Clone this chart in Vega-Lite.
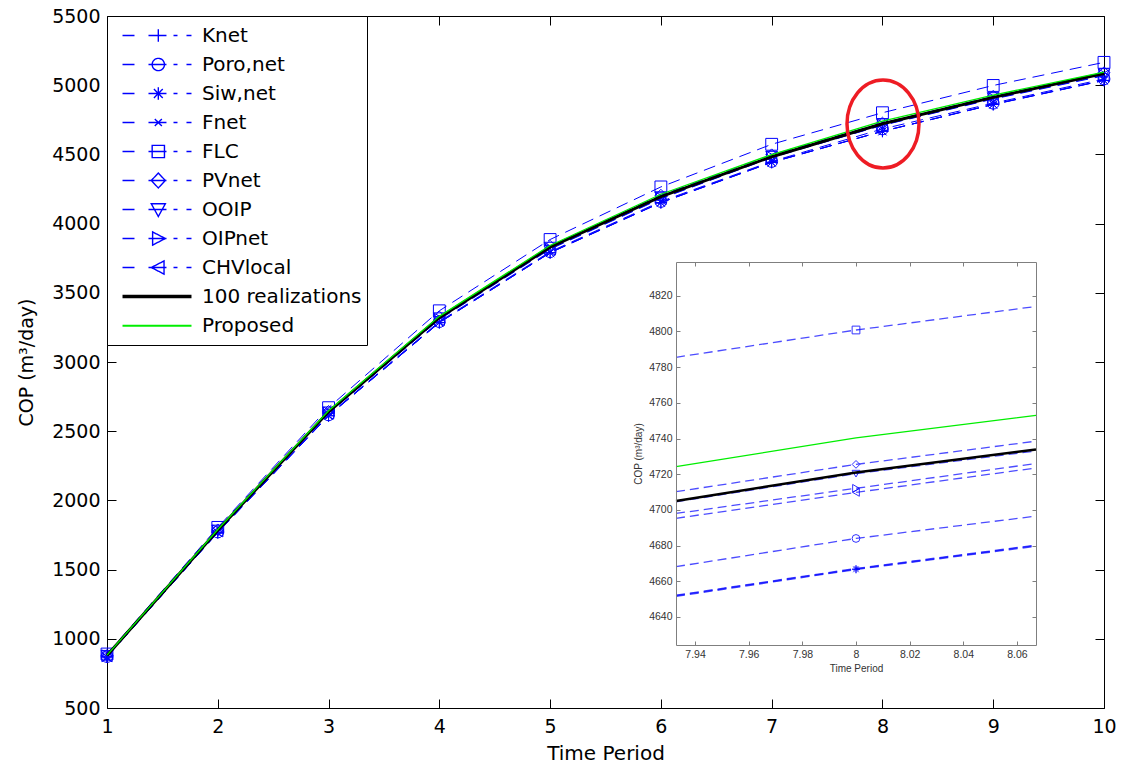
{
  "$schema": "https://vega.github.io/schema/vega-lite/v6.json",
  "width": 997,
  "height": 692,
  "autosize": {"type": "none"},
  "padding": {"left": 107, "top": 16, "right": 18, "bottom": 57},
  "background": "white",
  "config": {
    "view": {"stroke": null},
    "font": "DejaVu Sans",
    "axis": {"grid": false, "titleFontWeight": "normal"},
    "legend": {
      "orient": "top-left", "offset": 0, "padding": 5, "rowPadding": 0, "clipHeight": 29,
      "strokeColor": "black", "fillColor": "white", "symbolSize": 7700, "symbolStrokeWidth": 1.4,
      "labelFont": "DejaVu Sans", "labelFontSize": 20, "labelColor": "black", "labelOffset": 0, "labelLimit": 400
    }
  },
  "datasets": {
    "main": [
      {"series": "Knet", "t": 1, "cop": 870}, {"series": "Knet", "t": 2, "cop": 1768}, {"series": "Knet", "t": 3, "cop": 2612}, {"series": "Knet", "t": 4, "cop": 3285}, {"series": "Knet", "t": 5, "cop": 3790}, {"series": "Knet", "t": 6, "cop": 4152}, {"series": "Knet", "t": 7, "cop": 4443}, {"series": "Knet", "t": 8, "cop": 4667}, {"series": "Knet", "t": 9, "cop": 4861}, {"series": "Knet", "t": 10, "cop": 5035},
      {"series": "Poro,net", "t": 1, "cop": 872}, {"series": "Poro,net", "t": 2, "cop": 1772}, {"series": "Poro,net", "t": 3, "cop": 2618}, {"series": "Poro,net", "t": 4, "cop": 3292}, {"series": "Poro,net", "t": 5, "cop": 3797}, {"series": "Poro,net", "t": 6, "cop": 4160}, {"series": "Poro,net", "t": 7, "cop": 4449}, {"series": "Poro,net", "t": 8, "cop": 4684}, {"series": "Poro,net", "t": 9, "cop": 4870}, {"series": "Poro,net", "t": 10, "cop": 5045},
      {"series": "Siw,net", "t": 1, "cop": 869}, {"series": "Siw,net", "t": 2, "cop": 1767}, {"series": "Siw,net", "t": 3, "cop": 2611}, {"series": "Siw,net", "t": 4, "cop": 3284}, {"series": "Siw,net", "t": 5, "cop": 3789}, {"series": "Siw,net", "t": 6, "cop": 4151}, {"series": "Siw,net", "t": 7, "cop": 4442}, {"series": "Siw,net", "t": 8, "cop": 4667}, {"series": "Siw,net", "t": 9, "cop": 4860}, {"series": "Siw,net", "t": 10, "cop": 5034},
      {"series": "Fnet", "t": 1, "cop": 870}, {"series": "Fnet", "t": 2, "cop": 1769}, {"series": "Fnet", "t": 3, "cop": 2613}, {"series": "Fnet", "t": 4, "cop": 3286}, {"series": "Fnet", "t": 5, "cop": 3791}, {"series": "Fnet", "t": 6, "cop": 4153}, {"series": "Fnet", "t": 7, "cop": 4444}, {"series": "Fnet", "t": 8, "cop": 4667}, {"series": "Fnet", "t": 9, "cop": 4862}, {"series": "Fnet", "t": 10, "cop": 5036},
      {"series": "FLC", "t": 1, "cop": 890}, {"series": "FLC", "t": 2, "cop": 1805}, {"series": "FLC", "t": 3, "cop": 2670}, {"series": "FLC", "t": 4, "cop": 3370}, {"series": "FLC", "t": 5, "cop": 3885}, {"series": "FLC", "t": 6, "cop": 4265}, {"series": "FLC", "t": 7, "cop": 4573}, {"series": "FLC", "t": 8, "cop": 4801}, {"series": "FLC", "t": 9, "cop": 4998}, {"series": "FLC", "t": 10, "cop": 5165},
      {"series": "PVnet", "t": 1, "cop": 880}, {"series": "PVnet", "t": 2, "cop": 1787}, {"series": "PVnet", "t": 3, "cop": 2643}, {"series": "PVnet", "t": 4, "cop": 3325}, {"series": "PVnet", "t": 5, "cop": 3836}, {"series": "PVnet", "t": 6, "cop": 4205}, {"series": "PVnet", "t": 7, "cop": 4497}, {"series": "PVnet", "t": 8, "cop": 4726}, {"series": "PVnet", "t": 9, "cop": 4920}, {"series": "PVnet", "t": 10, "cop": 5090},
      {"series": "OOIP", "t": 1, "cop": 879}, {"series": "OOIP", "t": 2, "cop": 1784}, {"series": "OOIP", "t": 3, "cop": 2638}, {"series": "OOIP", "t": 4, "cop": 3318}, {"series": "OOIP", "t": 5, "cop": 3828}, {"series": "OOIP", "t": 6, "cop": 4193}, {"series": "OOIP", "t": 7, "cop": 4485}, {"series": "OOIP", "t": 8, "cop": 4720}, {"series": "OOIP", "t": 9, "cop": 4909}, {"series": "OOIP", "t": 10, "cop": 5082},
      {"series": "OIPnet", "t": 1, "cop": 877}, {"series": "OIPnet", "t": 2, "cop": 1780}, {"series": "OIPnet", "t": 3, "cop": 2632}, {"series": "OIPnet", "t": 4, "cop": 3310}, {"series": "OIPnet", "t": 5, "cop": 3818}, {"series": "OIPnet", "t": 6, "cop": 4183}, {"series": "OIPnet", "t": 7, "cop": 4480}, {"series": "OIPnet", "t": 8, "cop": 4712}, {"series": "OIPnet", "t": 9, "cop": 4903}, {"series": "OIPnet", "t": 10, "cop": 5072},
      {"series": "CHVlocal", "t": 1, "cop": 876}, {"series": "CHVlocal", "t": 2, "cop": 1779}, {"series": "CHVlocal", "t": 3, "cop": 2630}, {"series": "CHVlocal", "t": 4, "cop": 3307}, {"series": "CHVlocal", "t": 5, "cop": 3815}, {"series": "CHVlocal", "t": 6, "cop": 4180}, {"series": "CHVlocal", "t": 7, "cop": 4477}, {"series": "CHVlocal", "t": 8, "cop": 4710}, {"series": "CHVlocal", "t": 9, "cop": 4900}, {"series": "CHVlocal", "t": 10, "cop": 5068},
      {"series": "100 realizations", "t": 1, "cop": 880}, {"series": "100 realizations", "t": 2, "cop": 1785}, {"series": "100 realizations", "t": 3, "cop": 2640}, {"series": "100 realizations", "t": 4, "cop": 3320}, {"series": "100 realizations", "t": 5, "cop": 3830}, {"series": "100 realizations", "t": 6, "cop": 4195}, {"series": "100 realizations", "t": 7, "cop": 4483}, {"series": "100 realizations", "t": 8, "cop": 4721}, {"series": "100 realizations", "t": 9, "cop": 4912}, {"series": "100 realizations", "t": 10, "cop": 5085},
      {"series": "Proposed", "t": 1, "cop": 882}, {"series": "Proposed", "t": 2, "cop": 1790}, {"series": "Proposed", "t": 3, "cop": 2648}, {"series": "Proposed", "t": 4, "cop": 3330}, {"series": "Proposed", "t": 5, "cop": 3842}, {"series": "Proposed", "t": 6, "cop": 4212}, {"series": "Proposed", "t": 7, "cop": 4499}, {"series": "Proposed", "t": 8, "cop": 4740}, {"series": "Proposed", "t": 9, "cop": 4928}, {"series": "Proposed", "t": 10, "cop": 5095}
    ],
    "inset": [
      {"series": "Knet", "t": 7.9329, "cop": 4651.9}, {"series": "Knet", "t": 8, "cop": 4666.9}, {"series": "Knet", "t": 8.0671, "cop": 4680},
      {"series": "Poro,net", "t": 7.9329, "cop": 4668.2}, {"series": "Poro,net", "t": 8, "cop": 4684}, {"series": "Poro,net", "t": 8.0671, "cop": 4696.5},
      {"series": "Siw,net", "t": 7.9329, "cop": 4651.5}, {"series": "Siw,net", "t": 8, "cop": 4666.6}, {"series": "Siw,net", "t": 8.0671, "cop": 4679.6},
      {"series": "Fnet", "t": 7.9329, "cop": 4652.2}, {"series": "Fnet", "t": 8, "cop": 4667.2}, {"series": "Fnet", "t": 8.0671, "cop": 4680.3},
      {"series": "FLC", "t": 7.9329, "cop": 4785.5}, {"series": "FLC", "t": 8, "cop": 4800.8}, {"series": "FLC", "t": 8.0671, "cop": 4814},
      {"series": "PVnet", "t": 7.9329, "cop": 4710.2}, {"series": "PVnet", "t": 8, "cop": 4725.5}, {"series": "PVnet", "t": 8.0671, "cop": 4738.5},
      {"series": "OOIP", "t": 7.9329, "cop": 4704.5}, {"series": "OOIP", "t": 8, "cop": 4720.3}, {"series": "OOIP", "t": 8.0671, "cop": 4733},
      {"series": "OIPnet", "t": 7.9329, "cop": 4698}, {"series": "OIPnet", "t": 8, "cop": 4712.1}, {"series": "OIPnet", "t": 8.0671, "cop": 4726},
      {"series": "CHVlocal", "t": 7.9329, "cop": 4695.3}, {"series": "CHVlocal", "t": 8, "cop": 4709.8}, {"series": "CHVlocal", "t": 8.0671, "cop": 4723.5},
      {"series": "100 realizations", "t": 7.9329, "cop": 4705}, {"series": "100 realizations", "t": 8, "cop": 4721}, {"series": "100 realizations", "t": 8.0671, "cop": 4733.8},
      {"series": "Proposed", "t": 7.9329, "cop": 4724.2}, {"series": "Proposed", "t": 8, "cop": 4740.4}, {"series": "Proposed", "t": 8.0671, "cop": 4753}
    ]
  },
  "layer": [
    {
      "data": {"name": "main"},
      "encoding": {
        "x": {"field": "t", "type": "quantitative",
          "scale": {"domain": [1, 10], "nice": false, "zero": false},
          "axis": {"orient": "bottom", "values": [1, 2, 3, 4, 5, 6, 7, 8, 9, 10], "tickSize": -9, "tickColor": "black", "domainColor": "black",
            "labelPadding": 18, "labelFontSize": 19, "labelFont": "DejaVu Sans", "labelColor": "black", "labelFlush": false, "labelOverlap": false,
            "title": "Time Period", "titleFontSize": 20, "titleFont": "DejaVu Sans", "titleColor": "black", "titlePadding": 7}},
        "y": {"field": "cop", "type": "quantitative",
          "scale": {"domain": [500, 5500], "nice": false, "zero": false},
          "axis": {"orient": "left", "values": [500, 1000, 1500, 2000, 2500, 3000, 3500, 4000, 4500, 5000, 5500], "format": "d", "tickSize": -9, "tickColor": "black", "domainColor": "black",
            "labelPadding": 16, "labelFontSize": 19, "labelFont": "DejaVu Sans", "labelColor": "black", "labelFlush": false, "labelOverlap": false,
            "title": "COP (m³/day)", "titleFontSize": 19, "titleFont": "DejaVu Sans", "titleColor": "black", "titlePadding": 15}}
      },
      "layer": [
        {
          "transform": [{"filter": "datum.series !== '100 realizations' && datum.series !== 'Proposed'"}],
          "mark": {"type": "line", "strokeDash": [12, 7], "strokeWidth": 1},
          "encoding": {
            "color": {"field": "series", "type": "nominal",
              "scale": {"domain": ["Knet", "Poro,net", "Siw,net", "Fnet", "FLC", "PVnet", "OOIP", "OIPnet", "CHVlocal", "100 realizations", "Proposed"],
                "range": ["#0000ff", "#0000ff", "#0000ff", "#0000ff", "#0000ff", "#0000ff", "#0000ff", "#0000ff", "#0000ff", "#000000", "#00ee00"]},
              "legend": {"title": null,
                "encode": {"symbols": {"update": {
                  "shape": {"signal": "['M-0.786,0H-0.513M-0.194,0H0.216M0.376,0H0.467M0.672,0H0.786M-0.11,0H0.17M0.03,-0.14V0.14','M-0.786,0H-0.513M-0.194,0H0.216M0.376,0H0.467M0.672,0H0.786M0.17,0A0.14,0.14 0 1,1 -0.11,0A0.14,0.14 0 1,1 0.17,0','M-0.786,0H-0.513M-0.194,0H0.216M0.376,0H0.467M0.672,0H0.786M-0.11,0H0.17M0.03,-0.14V0.14M-0.07,-0.1L0.13,0.1M-0.07,0.1L0.13,-0.1','M-0.786,0H-0.513M-0.194,0H0.216M0.376,0H0.467M0.672,0H0.786M-0.05,-0.08L0.11,0.08M-0.05,0.08L0.11,-0.08','M-0.786,0H-0.513M-0.194,0H0.216M0.376,0H0.467M0.672,0H0.786M-0.11,-0.14H0.17V0.14H-0.11Z','M-0.786,0H-0.513M-0.194,0H0.216M0.376,0H0.467M0.672,0H0.786M0.03,-0.17L0.19,0L0.03,0.17L-0.13,0Z','M-0.786,0H-0.513M-0.194,0H0.216M0.376,0H0.467M0.672,0H0.786M-0.13,-0.13H0.19L0.03,0.16Z','M-0.786,0H-0.513M-0.194,0H0.216M0.376,0H0.467M0.672,0H0.786M-0.1,-0.15L0.19,0L-0.1,0.15Z','M-0.786,0H-0.513M-0.194,0H0.216M0.376,0H0.467M0.672,0H0.786M0.16,-0.15L-0.13,0L0.16,0.15Z','M-0.786,0H0.786M-0.786,-0.025H0.786M-0.786,0.025H0.786','M-0.786,0H0.786M-0.786,0.014H0.786'][indexof(['Knet','Poro,net','Siw,net','Fnet','FLC','PVnet','OOIP','OIPnet','CHVlocal','100 realizations','Proposed'], datum.value)]"},
                  "fill": {"value": "transparent"},
                  "stroke": {"scale": "color", "field": "value"},
                  "size": {"value": 7700},
                  "strokeWidth": {"value": 1.4},
                  "strokeDash": {"value": [1, 0]},
                  "opacity": {"value": 1},
                  "strokeOpacity": {"value": 1}
                }}}
              }
            }
          }
        },
        {
          "transform": [{"filter": "datum.series !== '100 realizations' && datum.series !== 'Proposed'"}],
          "mark": {"type": "point", "filled": false, "size": 140, "strokeWidth": 1, "opacity": 1},
          "encoding": {
            "color": {"field": "series", "type": "nominal"},
            "shape": {"field": "series", "type": "nominal", "legend": null,
              "scale": {"domain": ["Knet", "Poro,net", "Siw,net", "Fnet", "FLC", "PVnet", "OOIP", "OIPnet", "CHVlocal"],
                "range": ["M-1,0H1M0,-1V1", "circle", "M-1,0H1M0,-1V1M-0.7,-0.7L0.7,0.7M-0.7,0.7L0.7,-0.7", "M-0.6,-0.6L0.6,0.6M-0.6,0.6L0.6,-0.6", "square", "diamond", "triangle-down", "triangle-right", "triangle-left"]}}
          }
        },
        {
          "transform": [{"filter": "datum.series === '100 realizations'"}],
          "mark": {"type": "line", "strokeWidth": 3},
          "encoding": {"color": {"field": "series", "type": "nominal"}}
        },
        {
          "transform": [{"filter": "datum.series === 'Proposed'"}],
          "mark": {"type": "line", "strokeWidth": 1.3},
          "encoding": {"color": {"field": "series", "type": "nominal"}}
        }
      ]
    },
    {
      "data": {"name": "main"},
      "mark": {"type": "line", "opacity": 0},
      "encoding": {
        "x": {"field": "t", "type": "quantitative", "scale": {"domain": [1, 10], "nice": false, "zero": false},
          "axis": {"orient": "top", "values": [1, 2, 3, 4, 5, 6, 7, 8, 9, 10], "tickSize": -9, "tickColor": "black", "domainColor": "black", "labels": false, "title": null}},
        "y": {"field": "cop", "type": "quantitative", "scale": {"domain": [500, 5500], "nice": false, "zero": false},
          "axis": {"orient": "right", "values": [500, 1000, 1500, 2000, 2500, 3000, 3500, 4000, 4500, 5000, 5500], "tickSize": -9, "tickColor": "black", "domainColor": "black", "labels": false, "title": null}}
      }
    },
    {
      "data": {"values": [{"note": "zoomed region"}]},
      "mark": {"type": "point", "shape": "M0.818,0A0.818,1 0 1,1 -0.818,0A0.818,1 0 1,1 0.818,0Z", "size": 7744, "filled": false, "fill": "transparent", "stroke": "#ee1c24", "strokeWidth": 3.5, "opacity": 1},
      "encoding": {
        "x": {"datum": 8.005, "type": "quantitative", "scale": {"domain": [1, 10], "nice": false, "zero": false}, "axis": null},
        "y": {"datum": 4720, "type": "quantitative", "scale": {"domain": [500, 5500], "nice": false, "zero": false}, "axis": null}
      }
    },
    {
      "data": {"name": "inset"},
      "encoding": {
        "x": {"field": "t", "type": "quantitative",
          "scale": {"domain": [7.9329, 8.0671], "range": [569, 929], "nice": false, "zero": false},
          "axis": {"orient": "bottom", "offset": -63, "zindex": 1, "values": [7.94, 7.96, 7.98, 8, 8.02, 8.04, 8.06], "format": "~g",
            "tickSize": -4, "tickColor": "#7f7f7f", "domainColor": "#7f7f7f", "labelPadding": 8, "labelFont": "Liberation Sans", "labelFontSize": 10.5, "labelColor": "#333333",
            "labelFlush": false, "labelOverlap": false, "title": "Time Period", "titleFont": "Liberation Sans", "titleFontSize": 10, "titleColor": "#333333", "titlePadding": 4}},
        "y": {"field": "cop", "type": "quantitative",
          "scale": {"domain": [4624.3, 4838.9], "range": [629, 246], "nice": false, "zero": false},
          "axis": {"orient": "left", "offset": -569, "zindex": 1, "values": [4640, 4660, 4680, 4700, 4720, 4740, 4760, 4780, 4800, 4820], "format": "d",
            "tickSize": -4, "tickColor": "#7f7f7f", "domainColor": "#7f7f7f", "labelPadding": 8, "labelFont": "Liberation Sans", "labelFontSize": 10.5, "labelColor": "#333333",
            "labelFlush": false, "labelOverlap": false, "title": "COP (m³/day)", "titleFont": "Liberation Sans", "titleFontSize": 10, "titleColor": "#333333", "titlePadding": 5}}
      },
      "layer": [
        {
          "data": {"values": [{"frame": "inset"}]},
          "mark": {"type": "rect", "fill": "white", "stroke": "#7f7f7f", "strokeWidth": 1.2},
          "encoding": {
            "x": {"datum": 7.9329, "type": "quantitative"}, "x2": {"datum": 8.0671},
            "y": {"datum": 4624.3, "type": "quantitative"}, "y2": {"datum": 4838.9}
          }
        },
        {
          "transform": [{"filter": "datum.series !== '100 realizations' && datum.series !== 'Proposed'"}],
          "mark": {"type": "line", "strokeDash": [9, 5], "strokeWidth": 1.3, "opacity": 0.7},
          "encoding": {"color": {"field": "series", "type": "nominal"}}
        },
        {
          "transform": [{"filter": "datum.series !== '100 realizations' && datum.series !== 'Proposed' && datum.t === 8"}],
          "mark": {"type": "point", "filled": false, "size": 60, "strokeWidth": 1, "opacity": 0.8},
          "encoding": {
            "color": {"field": "series", "type": "nominal"},
            "shape": {"field": "series", "type": "nominal", "legend": null}
          }
        },
        {
          "transform": [{"filter": "datum.series === '100 realizations'"}],
          "mark": {"type": "line", "strokeWidth": 2.5},
          "encoding": {"color": {"field": "series", "type": "nominal"}}
        },
        {
          "transform": [{"filter": "datum.series === 'Proposed'"}],
          "mark": {"type": "line", "strokeWidth": 1.2},
          "encoding": {"color": {"field": "series", "type": "nominal"}}
        }
      ]
    },
    {
      "data": {"name": "inset"},
      "mark": {"type": "line", "opacity": 0},
      "encoding": {
        "x": {"field": "t", "type": "quantitative", "scale": {"domain": [7.9329, 8.0671], "range": [569, 929], "nice": false, "zero": false},
          "axis": {"orient": "top", "offset": -246, "zindex": 1, "values": [7.94, 7.96, 7.98, 8, 8.02, 8.04, 8.06], "tickSize": -4, "tickColor": "#7f7f7f", "domainColor": "#7f7f7f", "labels": false, "title": null}},
        "y": {"field": "cop", "type": "quantitative", "scale": {"domain": [4624.3, 4838.9], "range": [629, 246], "nice": false, "zero": false},
          "axis": {"orient": "right", "offset": -68, "zindex": 1, "values": [4640, 4660, 4680, 4700, 4720, 4740, 4760, 4780, 4800, 4820], "tickSize": -4, "tickColor": "#7f7f7f", "domainColor": "#7f7f7f", "labels": false, "title": null}}
      }
    }
  ],
  "resolve": {"scale": {"x": "independent", "y": "independent"}, "axis": {"x": "independent", "y": "independent"}}
}
